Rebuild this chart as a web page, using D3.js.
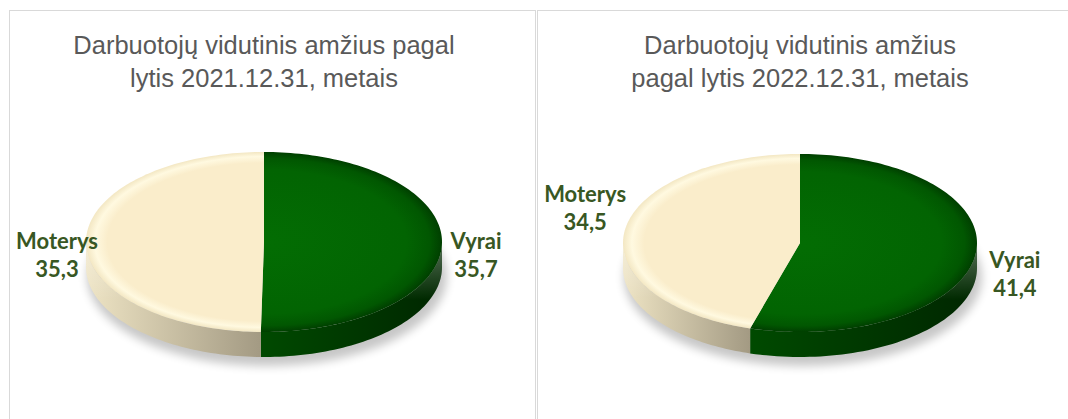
<!DOCTYPE html>
<html>
<head>
<meta charset="utf-8">
<script src="https://cdn.jsdelivr.net/npm/d3@7"></script>
<style>
  body { margin: 0; background: #fff; }
  svg { display: block; }
</style>
</head>
<body>
<div id="chart"></div>
<script>
const categories = ["Vyrai", "Moterys"];
const values2021 = [35.7, 35.3];
const values2022 = [41.4, 34.5];
const titles2021 = ["Darbuotojų vidutinis amžius pagal", "lytis 2021.12.31, metais"];
const titles2022 = ["Darbuotojų vidutinis amžius", "pagal lytis 2022.12.31, metais"];

const width = 1068, height = 419;

// label nudges are [dx, dy] away from the default outside-end spot
const panels = [
  {x0: 9.5, x1: 535.5, cx: 264, cy: 242, rx: 178, ry: 90, values: values2021, title: titles2021,
   nudge: {Vyrai: [0, -3], Moterys: [5, 0]}},
  {x0: 537.5, x1: 1075, cx: 800, cy: 243, rx: 177, ry: 89, values: values2022, title: titles2022,
   nudge: {Vyrai: [6, -12], Moterys: [-6, -21]}}
];
const depth = 25;

const sideStops = {Vyrai: ["#004a00", "#002600"], Moterys: ["#EEE4C4", "#A39A83"]};

const svg = d3.select("#chart").append("svg")
    .attr("width", width)
    .attr("height", height);

const defs = svg.append("defs");
defs.append("filter")
    .attr("id", "blur")
    .attr("x", "-30%").attr("y", "-60%")
    .attr("width", "160%").attr("height", "220%")
    .append("feGaussianBlur").attr("stdDeviation", 5);

const pie = d3.pie().sort(null).value(d => d.value);

function pt(p, t, dy) {
  return [p.cx + p.rx * Math.sin(t), p.cy - p.ry * Math.cos(t) + (dy || 0)];
}

panels.forEach(function (p, i) {
  const g = svg.append("g");

  g.append("rect")
      .attr("x", p.x0).attr("y", 10.5)
      .attr("width", p.x1 - p.x0).attr("height", 430)
      .attr("fill", "#fff")
      .attr("stroke", "#d9d9d9");

  g.append("text")
      .attr("text-anchor", "middle")
      .attr("font-family", "Liberation Sans, Arial, sans-serif")
      .attr("font-size", 25.5)
      .attr("fill", "#595959")
      .selectAll("tspan")
      .data(p.title)
      .enter()
      .append("tspan")
      .attr("x", p.cx)
      .attr("y", (d, j) => 54 + j * 33)
      .text(d => d);

  const arcs = pie(categories.map((c, j) => ({name: c, value: p.values[j]})));

  categories.forEach(function (c) {
    const rg = defs.append("radialGradient")
        .attr("id", `top-${i}-${c}`)
        .attr("gradientUnits", "userSpaceOnUse")
        .attr("cx", p.cx).attr("cy", p.cy).attr("r", p.rx)
        .attr("gradientTransform", `translate(${p.cx},${p.cy}) scale(1,${p.ry / p.rx}) translate(${-p.cx},${-p.cy})`);
    const stops = c === "Vyrai"
      ? [[0, "#036d03"], [0.8, "#026402"], [0.93, "#015701"], [1, "#003f00"]]
      : [[0, "#FAEDCB"], [0.88, "#FAEDCB"], [0.95, "#FFF9E0"], [1, "#F3E7C3"]];
    stops.forEach(s => rg.append("stop").attr("offset", s[0]).attr("stop-color", s[1]));

    const lg = defs.append("linearGradient")
        .attr("id", `side-${i}-${c}`)
        .attr("x1", 0).attr("x2", 1).attr("y1", 0).attr("y2", 0);
    lg.append("stop").attr("offset", 0).attr("stop-color", sideStops[c][0]);
    lg.append("stop").attr("offset", 1).attr("stop-color", sideStops[c][1]);
  });
  const gloss = defs.append("linearGradient")
      .attr("id", `gloss-${i}`)
      .attr("x1", 0).attr("x2", 0).attr("y1", 0).attr("y2", 1);
  gloss.append("stop").attr("offset", 0).attr("stop-color", "#fff").attr("stop-opacity", 0.35);
  gloss.append("stop").attr("offset", 0.5).attr("stop-color", "#fff").attr("stop-opacity", 0);

  // shadow under the pie
  g.append("ellipse")
      .attr("cx", p.cx + 3).attr("cy", p.cy + depth + 9)
      .attr("rx", p.rx + 2).attr("ry", p.ry)
      .attr("fill", "#000").attr("opacity", 0.22)
      .attr("filter", "url(#blur)");

  // side walls, front half only
  arcs.forEach(function (a) {
    const s = Math.max(a.startAngle, Math.PI / 2);
    const e = Math.min(a.endAngle, 3 * Math.PI / 2);
    if (e <= s) return;
    const ts = d3.range(0, 61).map(k => s + (e - s) * k / 60);
    const pts = ts.map(t => pt(p, t)).concat(ts.slice().reverse().map(t => pt(p, t, depth)));
    const d = "M" + pts.map(q => q.join(",")).join("L") + "Z";
    g.append("path").attr("d", d).attr("fill", `url(#side-${i}-${a.data.name})`);
    g.append("path").attr("d", d).attr("fill", `url(#gloss-${i})`);
  });

  // top faces
  arcs.forEach(function (a) {
    const n = Math.max(8, Math.round((a.endAngle - a.startAngle) * 40));
    const pts = d3.range(0, n + 1).map(k => pt(p, a.startAngle + (a.endAngle - a.startAngle) * k / n));
    const d = `M${p.cx},${p.cy}L` + pts.map(q => q.join(",")).join("L") + "Z";
    g.append("path").attr("d", d).attr("fill", `url(#top-${i}-${a.data.name})`);
  });

  // labels
  arcs.forEach(function (a) {
    const mid = (a.startAngle + a.endAngle) / 2;
    const nd = p.nudge[a.data.name];
    const lx = p.cx + (p.rx + 34) * Math.sin(mid) + nd[0];
    const ly = p.cy + depth / 2 + 3 - 200 * Math.cos(mid) + nd[1];
    g.append("text")
        .attr("text-anchor", "middle")
        .attr("font-family", "Lato, Carlito, Calibri, sans-serif")
        .attr("font-weight", "bold")
        .attr("font-size", 22)
        .attr("fill", "#385723")
        .selectAll("tspan")
        .data([a.data.name, d3.format(".1f")(a.data.value).replace(".", ",")])
        .enter()
        .append("tspan")
        .attr("x", lx)
        .attr("y", (d, k) => ly - 7 + k * 28)
        .text(d => d);
  });
});
</script>
</body>
</html>
